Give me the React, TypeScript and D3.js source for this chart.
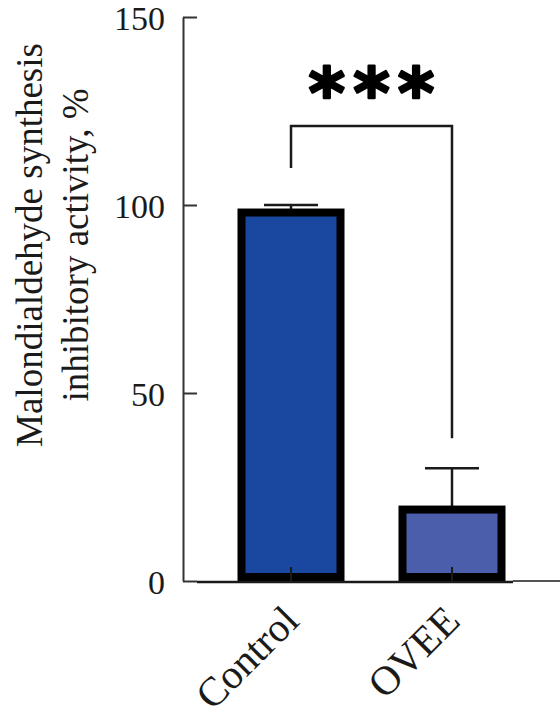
import { useEffect, useRef } from 'react';
import * as d3 from 'd3';

const categories = ['Control', 'OVEE'];
const means = [98, 19];
const errors = [2, 11];
const fills = ['#1a47a0', '#4a5eab'];
const yTicks = [0, 50, 100, 150];
const yLabelLines = ['Malondialdehyde synthesis', 'inhibitory activity, %'];
const sigLabel = '***';

const W = 560;
const H = 726;

export default function App() {
  const svgRef = useRef<SVGSVGElement>(null);

  useEffect(() => {
    if (!svgRef.current) return;
    const svg = d3.select(svgRef.current);
    svg.selectAll('*').remove();

    const ink = '#1a1a1a';
    const serif = '"Liberation Serif", "Times New Roman", serif';

    const y = d3.scaleLinear().domain([0, 150]).range([581, 17]);
    const x = d3.scaleBand<string>()
      .domain(categories)
      .range([241.5, 501.5])
      .paddingInner(0.385);
    const cx = (c: string) => x(c)! + x.bandwidth() / 2;
    const axisX = 183;

    const rows = categories.map((c, i) => ({ c, v: means[i], e: errors[i], fill: fills[i] }));

    // error bars (behind bars)
    const capW = 54;
    const eb = svg.append('g').attr('stroke', ink).attr('stroke-width', 2.5);
    eb.selectAll('line.v')
      .data(rows)
      .join('line')
      .attr('class', 'v')
      .attr('x1', d => cx(d.c)).attr('x2', d => cx(d.c))
      .attr('y1', d => y(d.v)).attr('y2', d => y(d.v + d.e));
    eb.selectAll('line.cap')
      .data(rows)
      .join('line')
      .attr('class', 'cap')
      .attr('x1', d => cx(d.c) - capW / 2).attr('x2', d => cx(d.c) + capW / 2)
      .attr('y1', d => y(d.v + d.e)).attr('y2', d => y(d.v + d.e));

    // bars
    const sw = 8;
    svg.append('g')
      .selectAll('rect')
      .data(rows)
      .join('rect')
      .attr('x', d => x(d.c)!)
      .attr('width', x.bandwidth())
      .attr('y', d => y(d.v))
      .attr('height', d => y(0) - sw / 2 - y(d.v))
      .attr('fill', d => d.fill)
      .attr('stroke', '#000')
      .attr('stroke-width', sw);

    // x axis baseline
    svg.append('line')
      .attr('x1', 197).attr('x2', 513)
      .attr('y1', y(0) + 1).attr('y2', y(0) + 1)
      .attr('stroke', ink).attr('stroke-width', 2.5);
    svg.append('line')
      .attr('x1', 513).attr('x2', W)
      .attr('y1', y(0)).attr('y2', y(0))
      .attr('stroke', ink).attr('stroke-width', 1.5);

    // x axis ticks (pointing up) and rotated labels
    const xg = svg.append('g')
      .attr('transform', `translate(0,${y(0)})`)
      .call(d3.axisBottom(x).tickSizeInner(-14).tickSizeOuter(0).tickFormat(() => ''));
    xg.select('.domain').remove();
    xg.selectAll('.tick line').attr('stroke', ink).attr('stroke-width', 2);

    svg.append('g')
      .selectAll('text')
      .data(categories)
      .join('text')
      .attr('transform', c => `translate(${cx(c) + 10},${y(0) + 42}) rotate(-45)`)
      .attr('text-anchor', 'end')
      .attr('font-family', serif)
      .attr('font-size', 41)
      .attr('fill', ink)
      .text(c => c);

    // y axis
    const yg = svg.append('g')
      .attr('transform', `translate(${axisX},0)`)
      .call(d3.axisLeft(y).tickValues(yTicks).tickSizeInner(-14).tickSizeOuter(0).tickPadding(18));
    yg.select('.domain').attr('stroke', '#333').attr('stroke-width', 2);
    yg.selectAll('.tick line').attr('stroke', '#333').attr('stroke-width', 2);
    yg.selectAll('.tick text')
      .attr('font-family', serif)
      .attr('font-size', 34)
      .attr('dy', '0.38em')
      .attr('fill', ink);

    // y label
    svg.append('text')
      .attr('transform', 'translate(42,245) rotate(-90)')
      .attr('text-anchor', 'middle')
      .attr('font-family', serif)
      .attr('font-size', 37)
      .attr('fill', ink)
      .selectAll('tspan')
      .data(yLabelLines)
      .join('tspan')
      .attr('x', 0)
      .attr('y', (_d, i) => i * 46)
      .text(d => d);

    // significance bracket
    const [a, b] = categories.map(cx);
    const top = 126;
    svg.append('path')
      .attr('d', `M${a},${top + 42}V${top}H${b}V${y(means[1] + errors[1]) - 30}`)
      .attr('fill', 'none')
      .attr('stroke', ink)
      .attr('stroke-width', 2.5);
    svg.append('text')
      .attr('x', (a + b) / 2 + 4)
      .attr('y', 117)
      .attr('text-anchor', 'middle')
      .attr('font-family', '"DejaVu Sans", sans-serif')
      .attr('font-weight', 'bold')
      .attr('font-size', 70)
      .attr('letter-spacing', 8)
      .attr('fill', '#000')
      .attr('stroke', '#000')
      .attr('stroke-width', 2.5)
      .attr('stroke-linejoin', 'round')
      .text(sigLabel);
  }, []);

  return (
    <svg
      ref={svgRef}
      width={W}
      height={H}
      style={{ position: 'absolute', left: 0, top: 0, background: '#fff' }}
    />
  );
}
